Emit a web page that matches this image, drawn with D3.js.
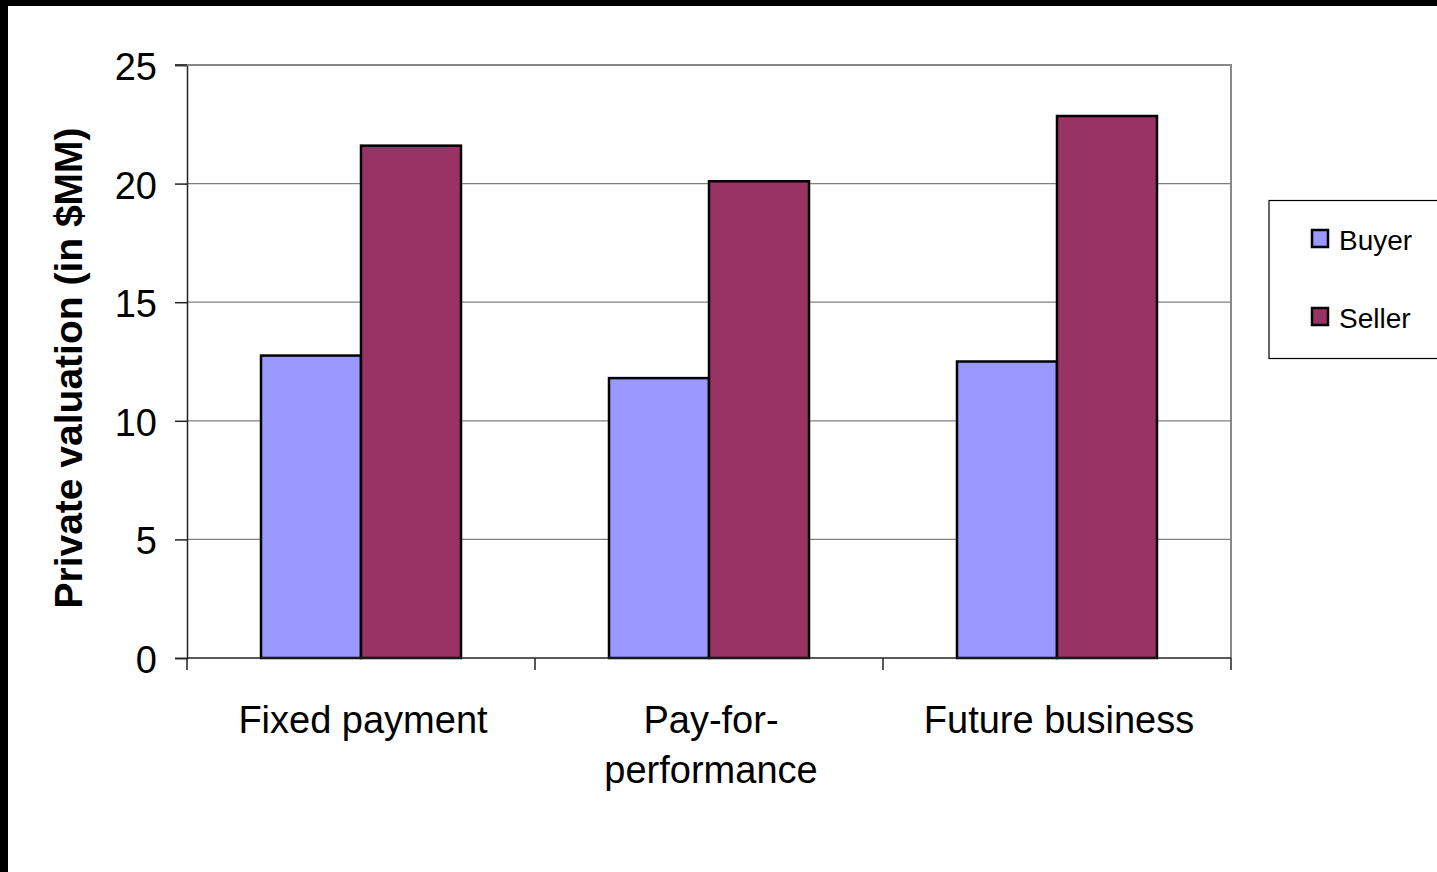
<!DOCTYPE html>
<html>
<head>
<meta charset="utf-8">
<script src="https://cdn.jsdelivr.net/npm/d3@7"></script>
<style>
  body { margin: 0; background: #fff; }
  svg { display: block; font-family: "Liberation Sans", Arial, sans-serif; }
</style>
</head>
<body>
<div id="chart"></div>
<script>
// chart data
const categories = ["Fixed payment", "Pay-for-performance", "Future business"];
const categoryLines = [["Fixed payment"], ["Pay-for-", "performance"], ["Future business"]];
const seriesNames = ["Buyer", "Seller"];
const buyerValues = [12.75, 11.8, 12.5];
const sellerValues = [21.6, 20.1, 22.85];
const yTicks = [0, 5, 10, 15, 20, 25];
const colors = ["#9999FF", "#993366"];

const width = 1437, height = 872;
const plot = { left: 187, right: 1231, top: 65, bottom: 658 };

const svg = d3.select("#chart").append("svg")
  .attr("width", width)
  .attr("height", height);

svg.append("rect").attr("width", width).attr("height", height).attr("fill", "#fff");

const x = d3.scaleBand()
  .domain(categories)
  .range([plot.left, plot.right])
  .paddingInner(0)
  .paddingOuter(0);

const x1 = d3.scaleBand()
  .domain(seriesNames)
  .range([0, x.bandwidth()])
  .paddingInner(0)
  .paddingOuter(0.74);

const y = d3.scaleLinear()
  .domain([0, 25])
  .range([plot.bottom, plot.top]);

// gridlines
svg.append("g")
  .selectAll("line")
  .data(yTicks.filter(d => d > 0))
  .join("line")
  .attr("x1", plot.left)
  .attr("x2", plot.right)
  .attr("y1", d => y(d))
  .attr("y2", d => y(d))
  .attr("stroke", "#808080")
  .attr("stroke-width", 1.3);

// right border of plot area
svg.append("line")
  .attr("x1", plot.right).attr("x2", plot.right)
  .attr("y1", plot.top).attr("y2", plot.bottom)
  .attr("stroke", "#888").attr("stroke-width", 2);

// bars
const rows = categories.map((c, i) => ({ cat: c, values: [buyerValues[i], sellerValues[i]] }));
const groups = svg.append("g")
  .selectAll("g")
  .data(rows)
  .join("g")
  .attr("transform", d => `translate(${x(d.cat)},0)`);

groups.selectAll("rect")
  .data(d => d.values.map((v, j) => ({ name: seriesNames[j], value: v, color: colors[j] })))
  .join("rect")
  .attr("x", d => x1(d.name))
  .attr("y", d => y(d.value))
  .attr("width", x1.bandwidth())
  .attr("height", d => y(0) - y(d.value))
  .attr("fill", d => d.color)
  .attr("stroke", "#000")
  .attr("stroke-width", 2.5);

// y axis
const yAxis = svg.append("g")
  .attr("transform", `translate(${plot.left},0)`)
  .call(d3.axisLeft(y).tickValues(yTicks).tickSize(12).tickPadding(18));
yAxis.select(".domain").attr("stroke", "#222").attr("stroke-width", 1.5);
yAxis.selectAll(".tick line").attr("stroke", "#222").attr("stroke-width", 1.5);
yAxis.selectAll("text")
  .attr("font-size", 38)
  .attr("dy", "0.38em")
  .attr("font-family", "Liberation Sans, Arial, sans-serif")
  .attr("fill", "#000");

// x axis line and boundary ticks
svg.append("line")
  .attr("x1", plot.left).attr("x2", plot.right)
  .attr("y1", plot.bottom).attr("y2", plot.bottom)
  .attr("stroke", "#222").attr("stroke-width", 1.5);

const bounds = categories.map(c => x(c)).concat([plot.right]);
svg.append("g")
  .selectAll("line")
  .data(bounds)
  .join("line")
  .attr("x1", d => d).attr("x2", d => d)
  .attr("y1", plot.bottom).attr("y2", plot.bottom + 12)
  .attr("stroke", "#222").attr("stroke-width", 1.5);

// top border of plot
svg.append("line")
  .attr("x1", plot.left - 12).attr("x2", plot.right + 1)
  .attr("y1", plot.top).attr("y2", plot.top)
  .attr("stroke", "#888").attr("stroke-width", 2);
svg.append("line")
  .attr("x1", plot.left - 12).attr("x2", plot.left)
  .attr("y1", plot.top).attr("y2", plot.top)
  .attr("stroke", "#222").attr("stroke-width", 1.5);

// category labels
const catLabels = svg.append("g")
  .selectAll("text")
  .data(categories)
  .join("text")
  .attr("x", d => x(d) + x.bandwidth() / 2 + 2)
  .attr("y", 733)
  .attr("text-anchor", "middle")
  .attr("font-size", 38)
  .attr("fill", "#000");
catLabels.selectAll("tspan")
  .data((d, i) => categoryLines[i])
  .join("tspan")
  .attr("x", function () { return d3.select(this.parentNode).attr("x"); })
  .attr("dy", (d, i) => i === 0 ? 0 : 50)
  .text(d => d);

// y title
svg.append("text")
  .attr("transform", "translate(82,368) rotate(-90)")
  .attr("text-anchor", "middle")
  .attr("font-size", 39)
  .attr("font-weight", "bold")
  .attr("fill", "#000")
  .text("Private valuation (in $MM)");

// legend
const legend = svg.append("g");
legend.append("rect")
  .attr("x", 1269).attr("y", 200.5)
  .attr("width", 200).attr("height", 158)
  .attr("fill", "#fff").attr("stroke", "#000").attr("stroke-width", 1.2);
const items = legend.selectAll("g.item")
  .data(seriesNames)
  .join("g")
  .attr("class", "item")
  .attr("transform", (d, i) => `translate(0,${i * 78})`);
items.append("rect")
  .attr("x", 1312).attr("y", 230)
  .attr("width", 16).attr("height", 17)
  .attr("fill", (d, i) => colors[i])
  .attr("stroke", "#000").attr("stroke-width", 2.5);
items.append("text")
  .attr("x", 1339).attr("y", 250)
  .attr("font-size", 28)
  .attr("fill", "#000")
  .text(d => d);

// black frame at the top and left edge
svg.append("rect").attr("x", 0).attr("y", 0).attr("width", width).attr("height", 6).attr("fill", "#000");
svg.append("rect").attr("x", 0).attr("y", 0).attr("width", 8).attr("height", height).attr("fill", "#000");
</script>
</body>
</html>
